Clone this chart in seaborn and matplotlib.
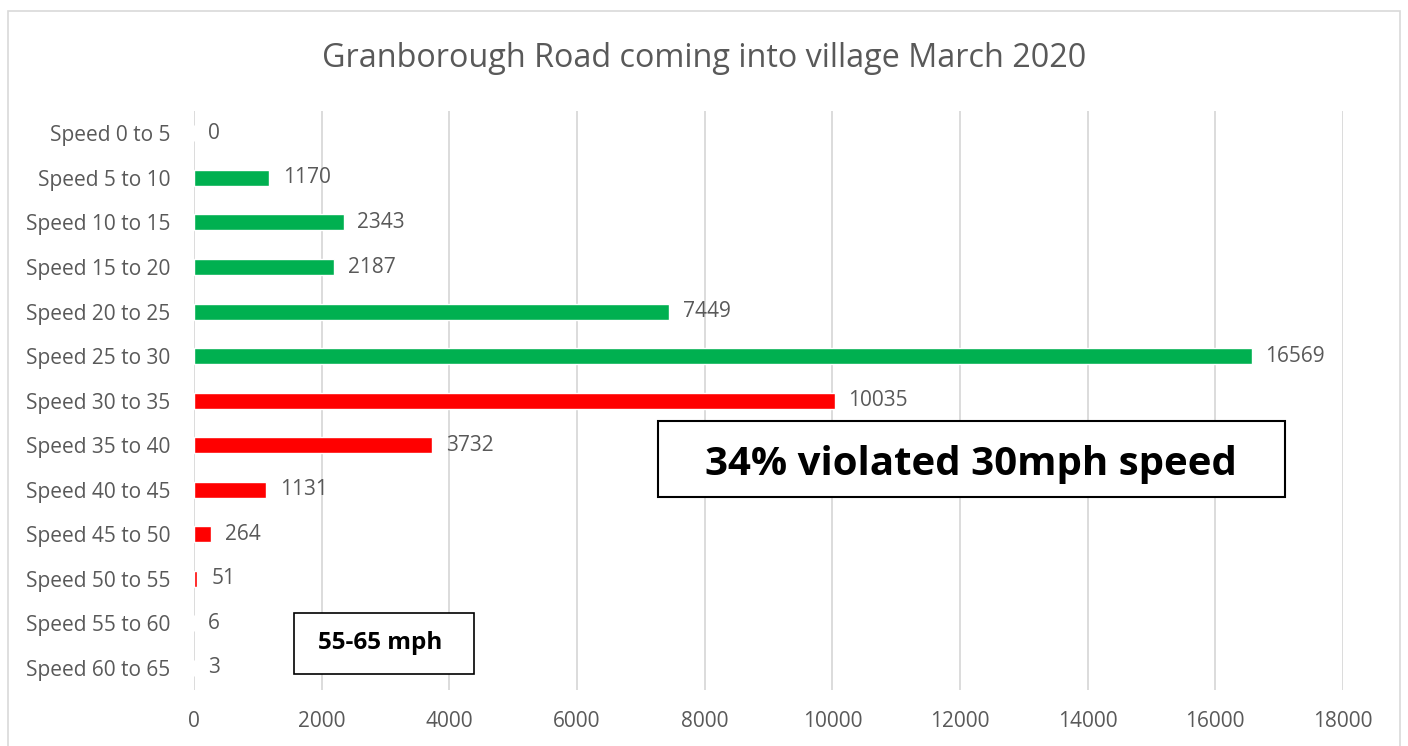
import matplotlib
matplotlib.use("Agg")
from matplotlib import pyplot as plt
from matplotlib.patches import Rectangle
import pandas as pd
import seaborn as sns

categories = ["Speed 0 to 5", "Speed 5 to 10", "Speed 10 to 15", "Speed 15 to 20",
              "Speed 20 to 25", "Speed 25 to 30", "Speed 30 to 35", "Speed 35 to 40",
              "Speed 40 to 45", "Speed 45 to 50", "Speed 50 to 55", "Speed 55 to 60",
              "Speed 60 to 65"]
counts = [0, 1170, 2343, 2187, 7449, 16569, 10035, 3732, 1131, 264, 51, 6, 3]
groups = ["under"] * 6 + ["over"] * 7
x_ticks = [0, 2000, 4000, 6000, 8000, 10000, 12000, 14000, 16000, 18000]

title = "Granborough Road coming into village March 2020"
note_big = "34% violated 30mph speed"
note_small = "55-65 mph"

df = pd.DataFrame({"speed": categories, "count": counts, "group": groups})

sns.set_style("white")
plt.rcParams["font.family"] = ["Open Sans", "DejaVu Sans"]

text_color = "#595959"
grid_color = "#D9D9D9"

fig = plt.figure(figsize=(14.08, 7.46), dpi=100)
ax = fig.add_axes([0.1378, 0.075, 0.816, 0.776])

sns.barplot(data=df, x="count", y="speed", hue="group", orient="h",
            palette={"under": "#00B050", "over": "#FF0000"}, saturation=1,
            dodge=False, width=0.36, legend=False, ax=ax, order=categories)

for c in ax.containers:
    ax.bar_label(c, labels=[f"{int(v)}" for v in c.datavalues], padding=10,
                 fontsize=15, color=text_color)

ax.set_xlim(0, 18000)
ax.set_ylim(len(categories) - 0.5, -0.5)
ax.set_xticks(x_ticks)
ax.set_xlabel("")
ax.set_ylabel("")
ax.tick_params(axis="both", length=0, labelsize=15, labelcolor=text_color)
ax.tick_params(axis="x", pad=15)
ax.tick_params(axis="y", pad=17)
ax.xaxis.grid(True, color=grid_color, linewidth=1.3)
ax.yaxis.grid(False)
ax.set_axisbelow(True)
for s in ax.spines.values():
    s.set_visible(False)

fig.text(0.5, 0.922, title, ha="center", va="center", fontsize=23.3, color=text_color)

# outer chart border
fig.patches.append(Rectangle((0.006, -0.01), 0.988, 0.995, transform=fig.transFigure,
                             fill=False, edgecolor="#D9D9D9", linewidth=1.2))

# annotation boxes
fig.patches.append(Rectangle((658 / 1408, 1 - 497 / 746), 627 / 1408, 76 / 746,
                             transform=fig.transFigure, facecolor="white",
                             edgecolor="black", linewidth=1.5, zorder=5))
fig.text(971 / 1408, 1 - 464 / 746, note_big, ha="center", va="center",
         fontsize=29, fontweight="bold", color="black", zorder=6)

fig.patches.append(Rectangle((294 / 1408, 1 - 674 / 746), 180 / 1408, 61 / 746,
                             transform=fig.transFigure, facecolor="white",
                             edgecolor="black", linewidth=1.2, zorder=5))
fig.text(380 / 1408, 1 - 643 / 746, note_small, ha="center", va="center",
         fontsize=17.5, fontweight="bold", color="black", zorder=6)

fig.savefig("out.png", dpi=100, facecolor="white")
